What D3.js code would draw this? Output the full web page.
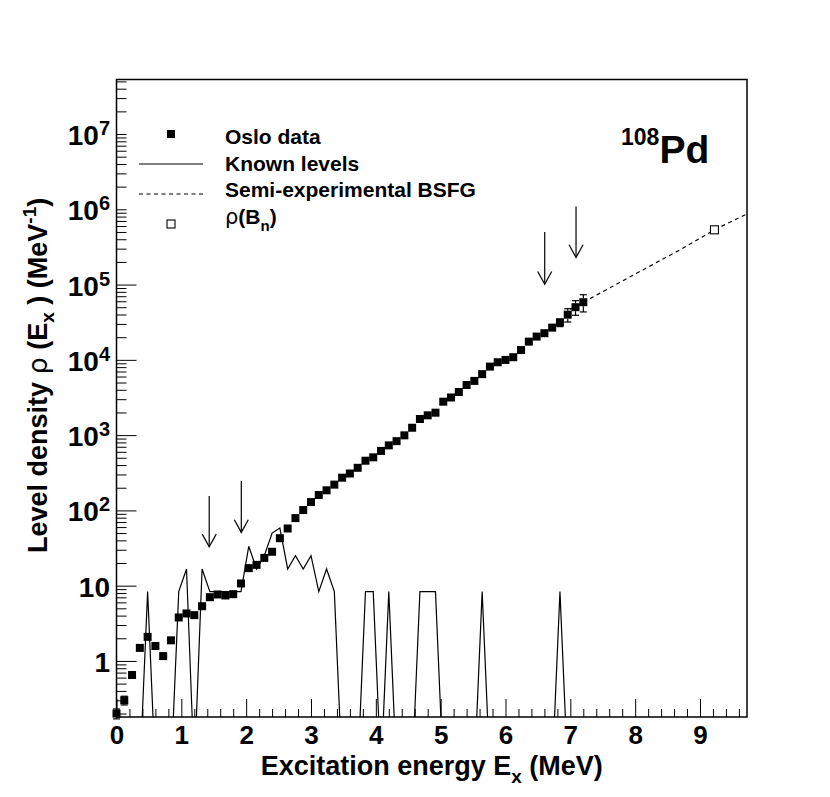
<!DOCTYPE html>
<html><head><meta charset="utf-8">
<script src="https://cdn.jsdelivr.net/npm/d3@7"></script>
<style>
body{margin:0;background:#fff;}
text{font-family:"Liberation Sans",Arial,Helvetica,sans-serif;font-weight:bold;fill:#000;}
</style>
</head><body>
<svg id="chart" width="830" height="797"></svg>
<script>
// ---------------- data ----------------
const energies = [0.00,0.12,0.24,0.36,0.48,0.60,0.72,0.84,0.96,1.08,
  1.20,1.32,1.44,1.56,1.68,1.80,1.92,2.04,2.16,2.28,
  2.40,2.52,2.64,2.76,2.88,3.00,3.12,3.24,3.36,3.48,
  3.60,3.72,3.84,3.96,4.08,4.20,4.32,4.44,4.56,4.68,
  4.80,4.92,5.04,5.16,5.28,5.40,5.52,5.64,5.76,5.88,
  6.00,6.12,6.24,6.36,6.48,6.60,6.72,6.84,6.96,7.08,7.20];
const osloRho = [0.20,0.30,0.65,1.49,2.09,1.58,1.16,1.88,3.78,4.27,
  4.06,5.33,7.03,7.64,7.41,7.71,10.7,17.1,18.9,23.4,
  28.2,42.7,57.5,79,101,129,160,185,220,272,
  309,368,457,507,617,731,832,993,1253,1637,
  1832,1986,2780,3162,3741,4634,5250,6457,8128,9290,
  9977,10840,13490,17460,20370,22590,26790,31620,39800,50100,58300];
const osloErr = [0.03,0.04,0.07,0.12,0.15,0.12,0.10,0.13,0.2,0.22,
  0.2,0.25,0.3,0.3,0.3,0.3,0.4,0.6,0.6,0.7,
  0.8,1.2,1.5,2,2.5,3,3.5,4,5,6,
  7,8,10,11,13,15,17,20,25,32,
  36,40,55,62,75,95,105,135,170,200,
  220,250,320,430,540,620,2000,4000,8000,11000,15000];
const knownLevels = [0,0,0,0,8.33,0,0,0,8.33,16.67,
  0,16.67,8.33,8.33,8.33,8.33,8.33,33.33,16.67,25,
  50,58.33,16.67,25,16.67,25,8.33,16.67,8.33,0,
  0,0,8.33,8.33,0,8.33,0,0,0,8.33,
  8.33,8.33,0,0,0,0,0,8.33,0,0,
  0,0,0,0,0,0,0,8.33,0,0,0];
const bsfgE   = [7.0, 7.46, 8.0, 8.69, 9.223, 9.725];
const bsfgRho = [4.68e4, 7.7e4, 1.38e5, 2.89e5, 5.34e5, 8.7e5];
const bnE   = [9.223];
const bnRho = [5.34e5];
const arrowE   = [1.43, 1.925, 6.605, 7.088];
const arrowTop = [155, 245, 4.98e5, 1.09e6];
const arrowTip = [32.8, 51, 1.01e5, 2.29e5];
const xMajorTicks = [0,1,2,3,4,5,6,7,8,9];
const yDecadeTicks = [1,10,100,1e3,1e4,1e5,1e6,1e7];
const yDecadeLabels = [["1",""],["10",""],["10","2"],["10","3"],["10","4"],["10","5"],["10","6"],["10","7"]];
const yLongTicks = [1,10,100,1e3,1e4,1e5];
const legendLabels = ["Oslo data","Known levels","Semi-experimental BSFG"];
const zeroFloor = 0.033;

// ---------------- layout ----------------
const svg = d3.select("#chart");
const L = 116.5, R = 747, T = 79.5, B = 717;
const x = d3.scaleLinear().domain([0, 9.725]).range([L, R]);
const y = d3.scaleLog().domain([0.18, 5.3e7]).range([B, T]);

svg.append("defs").append("clipPath").attr("id","clip")
  .append("rect").attr("x",L).attr("y",T).attr("width",R-L).attr("height",B-T);

// x ticks
const xMinor = [];
for (let v = 0.2; v < 9.725; v += 0.2) { const r = Math.round(v*10)/10; if (Math.abs(r-Math.round(r))>1e-6) xMinor.push(r); }
const gxMinor = svg.append("g").attr("transform",`translate(0,${B})`)
  .call(d3.axisBottom(x).tickValues(xMinor).tickSize(-8).tickFormat(""));
const gx = svg.append("g").attr("transform",`translate(0,${B})`)
  .call(d3.axisBottom(x).tickValues(xMajorTicks).tickSize(-18).tickPadding(9).tickFormat(d3.format("d")));
[gxMinor, gx].forEach(g => { g.select(".domain").remove(); g.selectAll("line").attr("stroke","#000").attr("stroke-width",1); });
gx.selectAll("text").style("font-size","26px").attr("font-family",null).attr("fill","#000");

// y ticks
const yMinor = [];
for (let d = -1; d <= 7; d++) for (let k = 1; k <= 9; k++) {
  const v = k*Math.pow(10,d);
  if (v >= 0.18 && v <= 5.3e7 && !yLongTicks.some(t => Math.abs(t-v)/v < 1e-9)) yMinor.push(v);
}
const gyMinor = svg.append("g").attr("transform",`translate(${L},0)`)
  .call(d3.axisLeft(y).tickValues(yMinor).tickSize(-10).tickFormat(""));
const gy = svg.append("g").attr("transform",`translate(${L},0)`)
  .call(d3.axisLeft(y).tickValues(yLongTicks).tickSize(-20).tickFormat(""));
[gyMinor, gy].forEach(g => { g.select(".domain").remove(); g.selectAll("line").attr("stroke","#000").attr("stroke-width",1); });

// y labels
yDecadeTicks.forEach((v,i) => {
  const t = svg.append("text").attr("x",110).attr("y",y(v)+11).attr("text-anchor","end").style("font-size","28px");
  t.append("tspan").text(yDecadeLabels[i][0]);
  if (yDecadeLabels[i][1]) t.append("tspan").attr("dy",-10).style("font-size","20px").text(yDecadeLabels[i][1]);
});

// frame
svg.append("rect").attr("x",L).attr("y",T).attr("width",R-L).attr("height",B-T)
  .attr("fill","none").attr("stroke","#000").attr("stroke-width",1.5);

// plot group (clipped lines)
const g = svg.append("g").attr("clip-path","url(#clip)");
// marker group (not clipped, like the reference)
const gm = svg.append("g");

// known levels
g.append("path")
  .datum(energies.map((e,i) => [e, knownLevels[i] > 0 ? knownLevels[i] : zeroFloor]))
  .attr("d", d3.line().x(d => x(d[0])).y(d => y(d[1])))
  .attr("fill","none").attr("stroke","#000").attr("stroke-width",1.2).attr("stroke-linejoin","miter");

// BSFG dashed
g.append("path")
  .datum(bsfgE.map((e,i) => [e, bsfgRho[i]]))
  .attr("d", d3.line().x(d => x(d[0])).y(d => y(d[1])))
  .attr("fill","none").attr("stroke","#000").attr("stroke-width",1.2).attr("stroke-dasharray","4,3.5");

// error bars (only the part outside the marker)
const ms = 8, half = ms/2, cap = 3.5;
energies.forEach((e,i) => {
  const cx = x(e), cy = y(osloRho[i]);
  const yu = y(osloRho[i] + osloErr[i]);
  const yl = y(Math.max(osloRho[i] - osloErr[i], 0.01));
  if (cy - yu > half) {
    gm.append("line").attr("x1",cx).attr("x2",cx).attr("y1",cy-half).attr("y2",yu).attr("stroke","#000").attr("stroke-width",1.2);
    gm.append("line").attr("x1",cx-cap).attr("x2",cx+cap).attr("y1",yu).attr("y2",yu).attr("stroke","#000").attr("stroke-width",1.2);
  }
  if (yl - cy > half) {
    gm.append("line").attr("x1",cx).attr("x2",cx).attr("y1",cy+half).attr("y2",yl).attr("stroke","#000").attr("stroke-width",1.2);
    gm.append("line").attr("x1",cx-cap).attr("x2",cx+cap).attr("y1",yl).attr("y2",yl).attr("stroke","#000").attr("stroke-width",1.2);
  }
});

// Oslo data squares
gm.selectAll("rect.oslo").data(energies).enter().append("rect").attr("class","oslo")
  .attr("x",(e) => x(e)-half).attr("y",(e,i) => y(osloRho[i])-half)
  .attr("width",ms).attr("height",ms).attr("fill","#000");

// rho(Bn)
gm.selectAll("rect.bn").data(bnE).enter().append("rect").attr("class","bn")
  .attr("x",e => x(e)-4).attr("y",(e,i) => y(bnRho[i])-4)
  .attr("width",8).attr("height",8).attr("fill","#fff").attr("stroke","#000").attr("stroke-width",1.1);

// arrows
arrowE.forEach((e,i) => {
  const ax = x(e), y0 = y(arrowTop[i]), y1 = y(arrowTip[i]);
  svg.append("line").attr("x1",ax).attr("x2",ax).attr("y1",y0).attr("y2",y1).attr("stroke","#000").attr("stroke-width",1.2);
  svg.append("path").attr("d",`M${ax-7},${y1-12.7}L${ax},${y1}L${ax+7},${y1-12.7}`)
    .attr("fill","none").attr("stroke","#000").attr("stroke-width",1.2);
});

// legend
const lx = 225, lfs = "21px";
svg.append("rect").attr("x",167).attr("y",130).attr("width",8).attr("height",8).attr("fill","#000");
svg.append("line").attr("x1",139).attr("x2",203).attr("y1",164).attr("y2",164).attr("stroke","#000").attr("stroke-width",1.2);
svg.append("line").attr("x1",139).attr("x2",203).attr("y1",194).attr("y2",194).attr("stroke","#000").attr("stroke-width",1.2).attr("stroke-dasharray","4,3.5");
svg.append("rect").attr("x",167).attr("y",220).attr("width",8).attr("height",8).attr("fill","#fff").attr("stroke","#000").attr("stroke-width",1.1);
[143.5, 170.5, 197].forEach((by,i) => {
  svg.append("text").attr("x",lx).attr("y",by).style("font-size",lfs).text(legendLabels[i]);
});
{
  const t = svg.append("text").attr("x",lx).attr("y",223.5).style("font-size",lfs);
  t.append("tspan").attr("font-family","DejaVu Sans").style("font-weight","normal").text("ρ");
  t.append("tspan").text("(B");
  t.append("tspan").attr("dy",7).style("font-size","15px").text("n");
  t.append("tspan").attr("dy",-7).text(")");
}

// nucleus label
{
  const t = svg.append("text").attr("x",621).attr("y",163);
  t.append("tspan").attr("dy",-18).style("font-size","23px").text("108");
  t.append("tspan").attr("dy",18).style("font-size","39px").text("Pd");
}

// x title
{
  const t = svg.append("text").attr("x",(L+R)/2).attr("y",775).attr("text-anchor","middle").style("font-size","27px");
  t.append("tspan").text("Excitation energy E");
  t.append("tspan").attr("dy",8).style("font-size","19px").text("x");
  t.append("tspan").attr("dy",-8).text(" (MeV)");
}
// y title
{
  const t = svg.append("text").attr("transform","translate(47,553) rotate(-90)").style("font-size","27px");
  t.append("tspan").text("Level density ");
  t.append("tspan").attr("font-family","DejaVu Sans").style("font-weight","normal").text("ρ");
  t.append("tspan").text(" (E");
  t.append("tspan").attr("dy",7).style("font-size","19px").text("x");
  t.append("tspan").attr("dy",-7).text(" ) (MeV");
  t.append("tspan").attr("dy",-11).style("font-size","19px").text("-1");
  t.append("tspan").attr("dy",11).text(")");
}
</script>
</body></html>
